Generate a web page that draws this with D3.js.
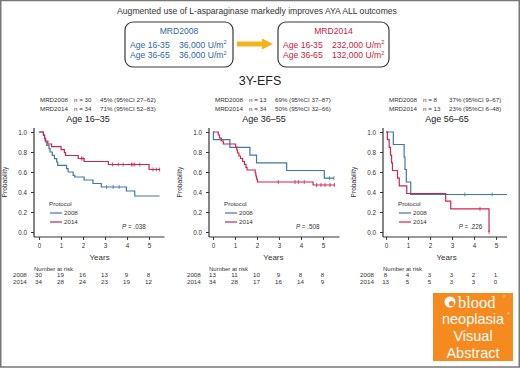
<!DOCTYPE html>
<html>
<head>
<meta charset="utf-8">
<script src="https://cdn.jsdelivr.net/npm/d3@7"></script>
<style>
  body { margin: 0; background: #fff; }
  svg { display: block; font-family: "Liberation Sans", Arial, sans-serif; }
</style>
</head>
<body>
<svg id="chart" width="520" height="368"></svg>
<script>
// ---- data ----
const panelTitles = ["Age 16\u201335", "Age 36\u201355", "Age 56\u201365"];
const header2008 = [["n = 30", "45% (95%CI 27\u201362)"], ["n = 13", "69% (95%CI 37\u201387)"], ["n = 8", "37% (95%CI 9\u201367)"]];
const header2014 = [["n = 34", "71% (95%CI 52\u201383)"], ["n = 34", "50% (95%CI 32\u201366)"], ["n = 13", "23% (95%CI 6\u201348)"]];
const pValues = ["P = .038", "P = .508", "P = .226"];
const yearTicks = [0, 1, 2, 3, 4, 5];
const probTicks = [0, 0.2, 0.4, 0.6, 0.8, 1.0];
const risk2008 = [[30, 19, 16, 13, 9, 8], [13, 11, 10, 9, 8, 8], [8, 4, 3, 3, 2, 1]];
const risk2014 = [[34, 28, 24, 23, 19, 12], [34, 28, 17, 16, 14, 9], [13, 5, 5, 3, 3, 0]];

// step curves: [time, survival after event]; last pair = end of follow-up
const km2008 = [
  [[0, 1], [0.2, 0.967], [0.25, 0.933], [0.3, 0.9], [0.35, 0.867], [0.45, 0.833], [0.5, 0.8], [0.6, 0.767],
   [0.7, 0.733], [0.8, 0.7], [0.85, 0.667], [1.25, 0.633], [1.32, 0.6], [1.55, 0.567], [1.62, 0.55],
   [2.05, 0.52], [2.45, 0.485], [2.83, 0.45], [3.97, 0.41], [4.35, 0.36], [5.48, 0.36]],
  [[0, 1], [0.02, 0.923], [0.77, 0.846], [1.68, 0.769], [1.98, 0.692], [3.35, 0.615], [5.06, 0.538], [5.5, 0.538]],
  [[0, 1], [0.33, 0.875], [0.82, 0.75], [0.86, 0.625], [0.92, 0.5], [1.12, 0.375], [5.5, 0.375]]
];
const km2014 = [
  [[0, 1], [0.2, 0.97], [0.25, 0.94], [0.28, 0.91], [0.4, 0.88], [0.57, 0.853], [1.0, 0.824], [1.15, 0.794],
   [1.2, 0.765], [1.78, 0.735], [2.05, 0.705], [3.15, 0.675], [5.0, 0.625], [5.5, 0.625]],
  [[0, 1], [0.24, 0.97], [0.3, 0.94], [0.38, 0.91], [0.47, 0.88], [1.03, 0.85], [1.08, 0.82], [1.12, 0.79],
   [1.18, 0.76], [1.25, 0.735], [1.35, 0.705], [1.43, 0.676], [1.5, 0.647], [1.55, 0.62], [1.92, 0.59],
   [1.95, 0.56], [1.98, 0.53], [2.02, 0.5], [4.55, 0.47], [5.52, 0.47]],
  [[0, 1], [0.06, 0.923], [0.14, 0.846], [0.2, 0.769], [0.25, 0.692], [0.29, 0.615], [0.52, 0.538],
   [0.6, 0.462], [0.94, 0.385], [2.71, 0.308], [2.94, 0.231], [4.68, 0], [4.68, 0]]
];
const censor2008 = [[3.07, 3.37, 3.64], [5.3, 5.5], [3.58, 4.82]];
const censor2014 = [[1.93, 2.0, 3.34, 3.6, 3.82, 4.2, 4.27, 4.35, 4.58, 5.18, 5.33, 5.48],
                    [2.97, 3.73, 3.88, 4.15, 4.71, 4.91, 5.09, 5.32, 5.52], [4.27, 4.68]];
const xDomains = [[-0.23, 5.7], [-0.18, 5.75], [-0.14, 5.5]];

// ---- layout ----
const svg = d3.select("#chart");
const blue = "#3f77a6", red = "#d0234e";
const blueText = "#2f67a0", redText = "#c8203f";
const axisLeft = [34, 209, 383];
const titleOffset = [54, 55, 64];
const pxPerYear = 22;
const y = d3.scaleLinear().domain([-0.05, 1.04]).range([237, 128]);

svg.append("rect").attr("x", 0.75).attr("y", 0.5).attr("width", 518.5).attr("height", 366.5)
  .attr("fill", "none").attr("stroke", "#777").attr("stroke-width", 1.5);

// top summary
svg.append("text").attr("x", 257).attr("y", 14).attr("text-anchor", "middle")
  .attr("font-size", 8.6).attr("fill", "#333")
  .text("Augmented use of L-asparaginase markedly improves AYA ALL outcomes");

const boxes = [
  { x: 125, w: 108, name: "MRD2008", color: blueText, doses: ["36,000", "36,000"] },
  { x: 278, w: 111, name: "MRD2014", color: redText, doses: ["232,000", "132,000"] }
];
const ageRows = ["Age 16-35", "Age 36-65"];
boxes.forEach(b => {
  svg.append("rect").attr("x", b.x).attr("y", 22).attr("width", b.w).attr("height", 45)
    .attr("rx", 8).attr("fill", "#fff").attr("stroke", "#3a3a3a").attr("stroke-width", 1.2);
  svg.append("text").attr("x", b.x + b.w / 2).attr("y", 33.5).attr("text-anchor", "middle")
    .attr("font-size", 8.6).attr("fill", b.color).text(b.name);
  ageRows.forEach((a, i) => {
    svg.append("text").attr("x", b.x + 5).attr("y", 47.5 + i * 10.5)
      .attr("font-size", 8.6).attr("fill", b.color).text(a);
    const t = svg.append("text").attr("x", b.x + 54).attr("y", 47.5 + i * 10.5)
      .attr("font-size", 8.6).attr("fill", b.color).text(b.doses[i] + " U/m");
    t.append("tspan").attr("font-size", 5.5).attr("dy", -3.5).text("2");
  });
});
// arrow
svg.append("path")
  .attr("d", "M237,41.5 H262 V38.5 L273,44 L262,49.5 V46.5 H237 Z")
  .attr("fill", "#f6b21c");

svg.append("text").attr("x", 260).attr("y", 85).attr("text-anchor", "middle")
  .attr("font-size", 12.5).attr("fill", "#222").text("3Y-EFS");

// ---- panels ----
const stepLine = d3.line().curve(d3.curveStepAfter);

function survAt(curve, t) {
  let s = curve[0][1];
  curve.forEach(p => { if (p[0] <= t) s = p[1]; });
  return s;
}

panelTitles.forEach((title, i) => {
  const ax = axisLeft[i];
  const dom = xDomains[i];
  const x = d3.scaleLinear().domain(dom).range([ax, ax + (dom[1] - dom[0]) * pxPerYear]);
  const g = svg.append("g");

  // header
  [["MRD2008", header2008[i]], ["MRD2014", header2014[i]]].forEach((row, k) => {
    const yy = 101.5 + k * 9;
    g.append("text").attr("x", ax + 6).attr("y", yy).attr("font-size", 6.2).attr("fill", "#333").text(row[0]);
    g.append("text").attr("x", ax + 40).attr("y", yy).attr("font-size", 6.2).attr("fill", "#333").text(row[1][0]);
    g.append("text").attr("x", ax + 66).attr("y", yy).attr("font-size", 6.2).attr("fill", "#333").text(row[1][1]);
  });
  g.append("text").attr("x", ax + titleOffset[i]).attr("y", 121.5).attr("text-anchor", "middle")
    .attr("font-size", 9).attr("fill", "#222").text(title);

  // axes
  const xAxis = g.append("g").attr("transform", `translate(0,${y(-0.05)})`)
    .call(d3.axisBottom(x).tickValues(yearTicks).tickSize(3).tickPadding(4).tickFormat(d3.format("d")));
  const yAxis = g.append("g").attr("transform", `translate(${ax},0)`)
    .call(d3.axisLeft(y).tickValues(probTicks).tickSize(3).tickPadding(4).tickFormat(d3.format(".1f")));
  [xAxis, yAxis].forEach(a => {
    a.select(".domain").attr("stroke", "#333").attr("stroke-width", 1.2);
    a.selectAll(".tick line").attr("stroke", "#333").attr("stroke-width", 1);
    a.selectAll(".tick text").attr("font-size", 6.3).attr("fill", "#333")
      .attr("font-family", "Liberation Sans, Arial, sans-serif");
  });
  xAxis.select(".domain").attr("d", `M${x(dom[0])},0H${x(dom[1])}`);
  yAxis.select(".domain").attr("d", `M0,${y(-0.05)}V${y(1.04)}`);

  g.append("text").attr("transform", `translate(${ax - 27},${y(0.5)}) rotate(-90)`)
    .attr("text-anchor", "middle").attr("font-size", 6.6).attr("fill", "#333")
    .attr("font-family", "Liberation Sans Narrow, Liberation Sans, sans-serif").text("Probability");
  g.append("text").attr("x", x(2.75)).attr("y", 260).attr("text-anchor", "middle")
    .attr("font-size", 8).attr("fill", "#333")
    .attr("font-family", "Liberation Sans Narrow, Liberation Sans, sans-serif").text("Years");

  // curves
  [[km2008[i], censor2008[i], blue], [km2014[i], censor2014[i], red]].forEach(([curve, cens, col]) => {
    g.append("path").attr("d", stepLine(curve.map(p => [x(p[0]), y(p[1])])))
      .attr("fill", "none").attr("stroke", col).attr("stroke-width", 1.2);
    g.selectAll(null).data(cens).enter().append("line")
      .attr("x1", d => x(d)).attr("x2", d => x(d))
      .attr("y1", d => y(survAt(curve, d)) - 2).attr("y2", d => y(survAt(curve, d)) + 2)
      .attr("stroke", col).attr("stroke-width", 0.8);
  });

  // legend
  g.append("text").attr("x", ax + 15).attr("y", 206).attr("font-size", 6.2).attr("fill", "#333").text("Protocol");
  [["2008", blue], ["2014", red]].forEach((l, k) => {
    const yy = 213 + k * 9;
    g.append("line").attr("x1", ax + 16).attr("x2", ax + 28).attr("y1", yy).attr("y2", yy)
      .attr("stroke", l[1]).attr("stroke-width", 1.2);
    g.append("text").attr("x", ax + 30).attr("y", yy + 2.3).attr("font-size", 6.2).attr("fill", "#333").text(l[0]);
  });
  const pX = [3.77, 3.77, 3.3][i];
  const pt = g.append("text").attr("x", x(pX)).attr("y", 228.5).attr("font-size", 6.3).attr("fill", "#333");
  pt.append("tspan").attr("font-style", "italic").text("P");
  pt.append("tspan").text(pValues[i].slice(1));

  // number at risk
  g.append("text").attr("x", ax).attr("y", 270.5).attr("font-size", 6).attr("fill", "#333").text("Number at risk");
  [["2008", risk2008[i]], ["2014", risk2014[i]]].forEach((row, k) => {
    const yy = 276.5 + k * 7.8;
    g.append("text").attr("x", x(0) - 26).attr("y", yy).attr("font-size", 6.2).attr("fill", "#333").text(row[0]);
    g.selectAll(null).data(row[1]).enter().append("text")
      .attr("x", (d, j) => x(yearTicks[j]) - 0.5).attr("y", yy).attr("text-anchor", "middle")
      .attr("font-size", 6.2).attr("fill", "#333").text(d => d);
  });
});

// ---- journal badge ----
const badge = svg.append("g");
badge.append("rect").attr("x", 433).attr("y", 293).attr("width", 80).attr("height", 68).attr("fill", "#f58a1f");
badge.append("circle").attr("cx", 450).attr("cy", 302).attr("r", 5.5).attr("fill", "#fff");
badge.append("circle").attr("cx", 451.5).attr("cy", 303.5).attr("r", 2.6).attr("fill", "#f58a1f");
badge.append("text").attr("x", 458).attr("y", 307.5).attr("font-size", 16.5)
  .attr("font-family", "Liberation Serif, DejaVu Serif, serif").attr("fill", "#fff").text("blood");
badge.append("text").attr("x", 503).attr("y", 298).attr("font-size", 3.5).attr("fill", "#fff").text("\u00ae");
badge.append("text").attr("x", 507).attr("y", 315).attr("font-size", 3.5).attr("fill", "#fff").text("\u00ae");
[["neoplasia", 324], ["Visual", 341], ["Abstract", 358]].forEach(r => {
  badge.append("text").attr("x", 473).attr("y", r[1]).attr("text-anchor", "middle")
    .attr("font-size", 14.5).attr("fill", "#fff").text(r[0]);
});
</script>
</body>
</html>
